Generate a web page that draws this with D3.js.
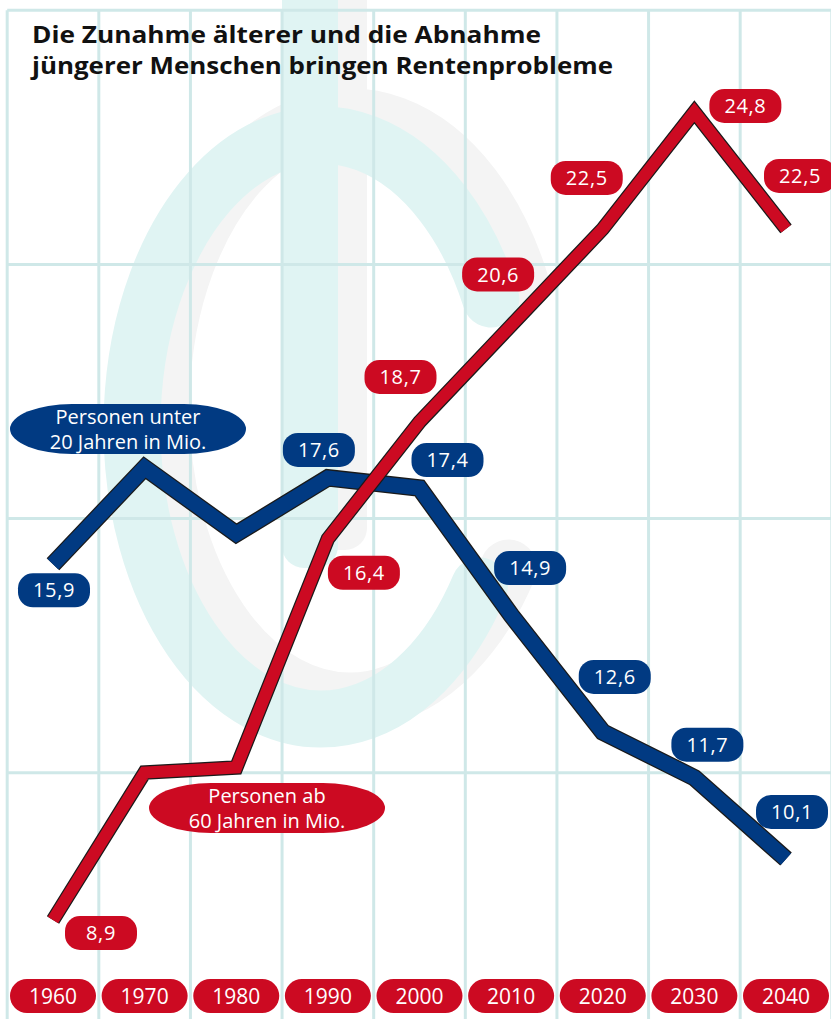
<!DOCTYPE html>
<html>
<head>
<meta charset="utf-8">
<script src="https://cdn.jsdelivr.net/npm/d3@7"></script>
<style>
  html, body { margin: 0; padding: 0; background: #fff; }
  svg { display: block; }
</style>
</head>
<body>
<div id="chart"></div>
<script>
// Daten
const years = [1960, 1970, 1980, 1990, 2000, 2010, 2020, 2030, 2040];
const over60 = [8.9, 11.8, 11.9, 16.4, 18.7, 20.6, 22.5, 24.8, 22.5];
const under20 = [15.9, 17.8, 16.5, 17.6, 17.4, 14.9, 12.6, 11.7, 10.1];
const gridYears = [1955, 1965, 1975, 1985, 1995, 2005, 2015, 2025, 2035, 2045];
const gridValues = [11.8, 16.8, 21.8, 26.8];
const titleLines = ["Die Zunahme älterer und die Abnahme", "jüngerer Menschen bringen Rentenprobleme"];
const over60Name = ["Personen ab", "60 Jahren in Mio."];
const under20Name = ["Personen unter", "20 Jahren in Mio."];

// which points get a value box, and where (offset from the point)
const over60Labels = [[48, 13], null, null, [36, 34], [-19, -45], [-13, -51], [-16, -51], [51, -6], [14, -53]];
const under20Labels = [[1, 26], null, null, [-9, -28], [28, -28], [19, -47], [12, -55], [13, -33], [6, -47]];

const width = 831;
const height = 1019;
const red = "#cc0a22";
const blue = "#013a82";
const gridColor = "#cfe8e8";
const font = "'Open Sans', Lato, sans-serif";

const x = d3.scaleLinear().domain([1960, 2040]).range([53, 786]);
const y = d3.scaleLinear().domain([8.9, 24.8]).range([920, 112]);
const fmt = (v) => v.toFixed(1).replace(".", ",");

const svg = d3.select("#chart").append("svg")
  .attr("width", width)
  .attr("height", height);

svg.append("rect").attr("width", width).attr("height", height).attr("fill", "#fff");

// Wasserzeichen im Hintergrund (Ring + Balken), grauer Schatten zuerst
function watermark(g, dx, dy, color) {
  const cx = 321 + dx, cy = 427 + dy, rx = 189, ry = 292;
  const a0 = -26 * Math.PI / 180, a1 = 33 * Math.PI / 180;
  g.append("path")
    .attr("d", `M${cx + rx * Math.cos(a0)},${cy + ry * Math.sin(a0)} A${rx},${ry} 0 1 0 ${cx + rx * Math.cos(a1)},${cy + ry * Math.sin(a1)}`)
    .attr("fill", "none")
    .attr("stroke", color)
    .attr("stroke-width", 57)
    .attr("stroke-linecap", "round");
  g.append("rect")
    .attr("x", 282 + dx).attr("y", -40)
    .attr("width", 56).attr("height", 608 + dy)
    .attr("rx", 22)
    .attr("fill", color);
}
const wm = svg.append("g");
watermark(wm, 29, -18, "#f4f4f4");
watermark(wm, 0, 0, "#e0f4f3");

// Gitter
const grid = svg.append("g").attr("stroke", gridColor).attr("stroke-width", 3);
grid.selectAll("line.v")
  .data(gridYears)
  .join("line")
  .attr("class", "v")
  .attr("x1", (d) => x(d)).attr("x2", (d) => x(d))
  .attr("y1", y(26.8)).attr("y2", height);
grid.selectAll("line.h")
  .data(gridValues)
  .join("line")
  .attr("class", "h")
  .attr("x1", x(1955)).attr("x2", width)
  .attr("y1", (d) => y(d)).attr("y2", (d) => y(d));

// Titel
const titleWidths = [509, 581];
svg.append("g")
  .selectAll("text")
  .data(titleLines)
  .join("text")
  .attr("x", 32)
  .attr("y", (d, i) => 43 + i * 31)
  .attr("font-family", font)
  .attr("font-weight", 700)
  .attr("font-size", 23)
  .attr("textLength", (d, i) => titleWidths[i])
  .attr("lengthAdjust", "spacingAndGlyphs")
  .attr("fill", "#111")
  .text((d) => d);

// Linien
const line = d3.line().x((d) => x(d[0])).y((d) => y(d[1]));

function drawSeries(values, color, w) {
  const pts = years.map((yr, i) => [yr, values[i]]);
  const g = svg.append("g");
  g.append("path")
    .attr("d", line(pts))
    .attr("fill", "none")
    .attr("stroke", "#1a1a1a")
    .attr("stroke-width", w + 2.5)
    .attr("stroke-linejoin", "miter")
    .attr("stroke-miterlimit", 10);
  g.append("path")
    .attr("d", line(pts))
    .attr("fill", "none")
    .attr("stroke", color)
    .attr("stroke-width", w)
    .attr("stroke-linejoin", "miter")
    .attr("stroke-miterlimit", 10);
}
drawSeries(under20, blue, 15);
drawSeries(over60, red, 12);

// Wertekästchen
function drawLabels(values, offsets, color) {
  const items = years
    .map((yr, i) => ({ yr, v: values[i], off: offsets[i] }))
    .filter((d) => d.off);
  const g = svg.append("g")
    .selectAll("g")
    .data(items)
    .join("g")
    .attr("transform", (d) => `translate(${x(d.yr) + d.off[0]},${y(d.v) + d.off[1]})`);
  g.append("rect")
    .attr("x", -36).attr("y", -17)
    .attr("width", 72).attr("height", 34)
    .attr("rx", 15)
    .attr("fill", color);
  g.append("text")
    .attr("text-anchor", "middle")
    .attr("dy", "0.36em")
    .attr("font-family", font)
    .attr("font-size", 20)
    .attr("letter-spacing", 0.6)
    .attr("fill", "#fff")
    .text((d) => fmt(d.v));
}
drawLabels(under20, under20Labels, blue);
drawLabels(over60, over60Labels, red);

// Legenden-Pillen
function drawLegend(lines, cx, cy, color) {
  const g = svg.append("g").attr("transform", `translate(${cx},${cy})`);
  g.append("rect")
    .attr("x", -118).attr("y", -25)
    .attr("width", 236).attr("height", 50)
    .attr("rx", 62).attr("ry", 25)
    .attr("fill", color);
  g.selectAll("text")
    .data(lines)
    .join("text")
    .attr("text-anchor", "middle")
    .attr("y", (d, i) => -5 + i * 25)
    .attr("font-family", font)
    .attr("font-size", 20)
    .attr("fill", "#fff")
    .text((d) => d);
}
drawLegend(under20Name, 128, 429, blue);
drawLegend(over60Name, 267, 808, red);

// Jahreszahlen
const axis = svg.append("g")
  .selectAll("g")
  .data(years)
  .join("g")
  .attr("transform", (d) => `translate(${x(d)},996)`);
axis.append("rect")
  .attr("x", -43).attr("y", -17)
  .attr("width", 86).attr("height", 34)
  .attr("rx", 17)
  .attr("fill", red);
axis.append("text")
  .attr("text-anchor", "middle")
  .attr("dy", "0.36em")
  .attr("font-family", font)
  .attr("font-size", 21)
  .attr("fill", "#fff")
  .text((d) => d);
</script>
</body>
</html>
